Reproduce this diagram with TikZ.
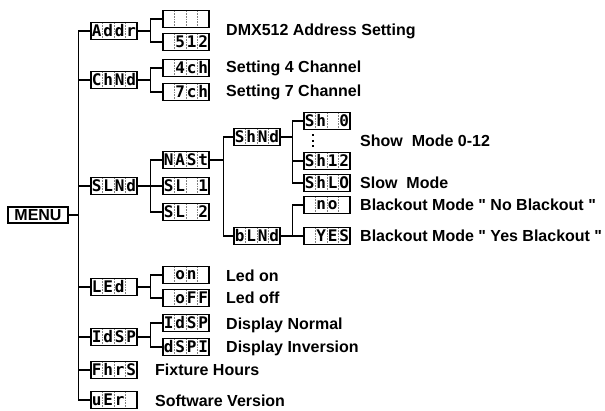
\documentclass[tikz,border=0pt]{standalone}
\usepackage{fontspec}
\setmainfont{Liberation Sans}
\newfontfamily\segfont{DejaVu Sans Mono}
\usepackage{tikz}
\usetikzlibrary{positioning}

% four display cells
\newcommand\dg[4]{\makebox[11.5pt]{#1}\makebox[11.5pt]{#2}\makebox[11.5pt]{#3}\makebox[11.5pt]{#4}}
% parent, first child, last child, gap
\newcommand\menufork[4]{%
  \draw[link] (#2.west) -- ++(-#4,0) coordinate (f) |- (#3.west);
  \draw[link] (#1.east) -- (#1.east -| f);}

\begin{document}
\begin{tikzpicture}[x=1pt,y=-1pt,
    disp/.style={draw,line width=1.3pt,minimum width=46pt,minimum height=17pt,inner sep=0pt,
      font=\segfont\bfseries\fontsize{16}{16}\selectfont,
      path picture={\foreach \i in {1,2,3}
        \draw[gray,densely dotted,line width=.6pt]
          ([xshift=\i*11.5pt]path picture bounding box.south west) --
          ([xshift=\i*11.5pt]path picture bounding box.north west);}},
    txt/.style={anchor=west,inner sep=0pt,font=\bfseries\fontsize{16}{16}\selectfont},
    link/.style={line width=1.2pt}]
  \useasboundingbox (0,0) rectangle (605,410);

  \node[draw,line width=1.3pt,minimum width=60pt,minimum height=16pt,inner sep=0pt,
        font=\bfseries\fontsize{16}{16}\selectfont] (menu) at (38,215) {MENU};

  % first level
  \node[disp] (addr) at (114,31) {\dg Addr};
  \node[disp] (chnd) at (114,80) {\dg ChNd};
  \node[disp] (slnd) at (114,186) {\dg SLNd};
  \node[disp] (led) at (114,287) {\dg LEd{}};
  \node[disp] (idsp) at (114,337) {\dg IdSP};
  \node[disp] (fhrs) at (114,370) {\dg FhrS};
  \node[disp] (uer) at (114,400) {\dg uEr{}};

  % second level
  \node[disp] (dmxa) at (186,19) {\dg{}{}{}{}};
  \node[disp] (dmxb) at (186,42) {\dg{}512};
  \node[disp] (ch4) at (186,68) {\dg{}4ch};
  \node[disp] (ch7) at (186,92) {\dg{}7ch};
  \node[disp] (mast) at (186,160) {\dg NASt};
  \node[disp] (sl1) at (186,186) {\dg SL{}1};
  \node[disp] (sl2) at (186,212) {\dg SL{}2};
  \node[disp] (lon) at (186,275) {\dg{}on{}};
  \node[disp] (loff) at (186,298) {\dg{}oFF};
  \node[disp] (dnor) at (186,323) {\dg IdSP};
  \node[disp] (dinv) at (186,347) {\dg dSPI};

  % slave mode
  \node[disp] (shnd) at (257,137) {\dg ShNd};
  \node[disp] (blnd) at (257,236) {\dg bLNd};
  \node[disp] (sh0) at (327,121) {\dg Sh{}0};
  \node[minimum width=2pt,minimum height=13pt,inner sep=0pt] (dots) at (313,141) {};
  \node[disp] (sh12) at (327,161) {\dg Sh12};
  \node[disp] (shlo) at (327,183) {\dg ShLO};
  \node[disp] (bno) at (327,205) {\dg{}no{}};
  \node[disp] (byes) at (327,236) {\dg{}YES};
  \draw[line width=2pt,dash pattern=on 2pt off 3.5pt] (dots.north) -- (dots.south);

  % texts
  \node[txt] (tdmx) at (226,31) {DMX512 Address Setting};
  \node[txt] (t4) at (226,68) {Setting 4 Channel};
  \node[txt] (t7) at (226,92) {Setting 7 Channel};
  \node[txt] (tshow) at (360,141) {Show~ Mode 0-12};
  \node[txt] (tslow) at (360,183) {Slow~ Mode};
  \node[txt] (tno) at (360,205) {Blackout Mode \textquotedbl\ No Blackout \textquotedbl};
  \node[txt] (tyes) at (360,236) {Blackout Mode \textquotedbl\ Yes Blackout \textquotedbl};
  \node[txt] (ton) at (226,276) {Led on};
  \node[txt] (toff) at (226,298) {Led off};
  \node[txt] (tnor) at (226,325) {Display Normal};
  \node[txt] (tinv) at (226,348) {Display Inversion};
  \node[txt] (thrs) at (155,370) {Fixture Hours};
  \node[txt] (tver) at (155,401) {Software Version};

  % trunk
  \coordinate (trunk) at ([xshift=-12pt]addr.west);
  \draw[link] (trunk) |- (uer.west);
  \draw[link] (menu.east) -- (menu.east -| trunk);
  \foreach \n in {addr,chnd,slnd,led,idsp,fhrs}
    \draw[link] (\n.west) -- (\n.west -| trunk);

  % branches
  \menufork{addr}{dmxa}{dmxb}{12}
  \menufork{chnd}{ch4}{ch7}{12}
  \menufork{slnd}{mast}{sl2}{12}
  \draw[link] (sl1.west) -- (sl1.west -| f);
  \menufork{mast}{shnd}{blnd}{10}
  \menufork{shnd}{sh0}{shlo}{11}
  \draw[link] (sh12.west) -- (sh12.west -| f);
  \menufork{blnd}{bno}{byes}{11}
  \menufork{led}{lon}{loff}{12}
  \menufork{idsp}{dnor}{dinv}{12}
\end{tikzpicture}
\end{document}
